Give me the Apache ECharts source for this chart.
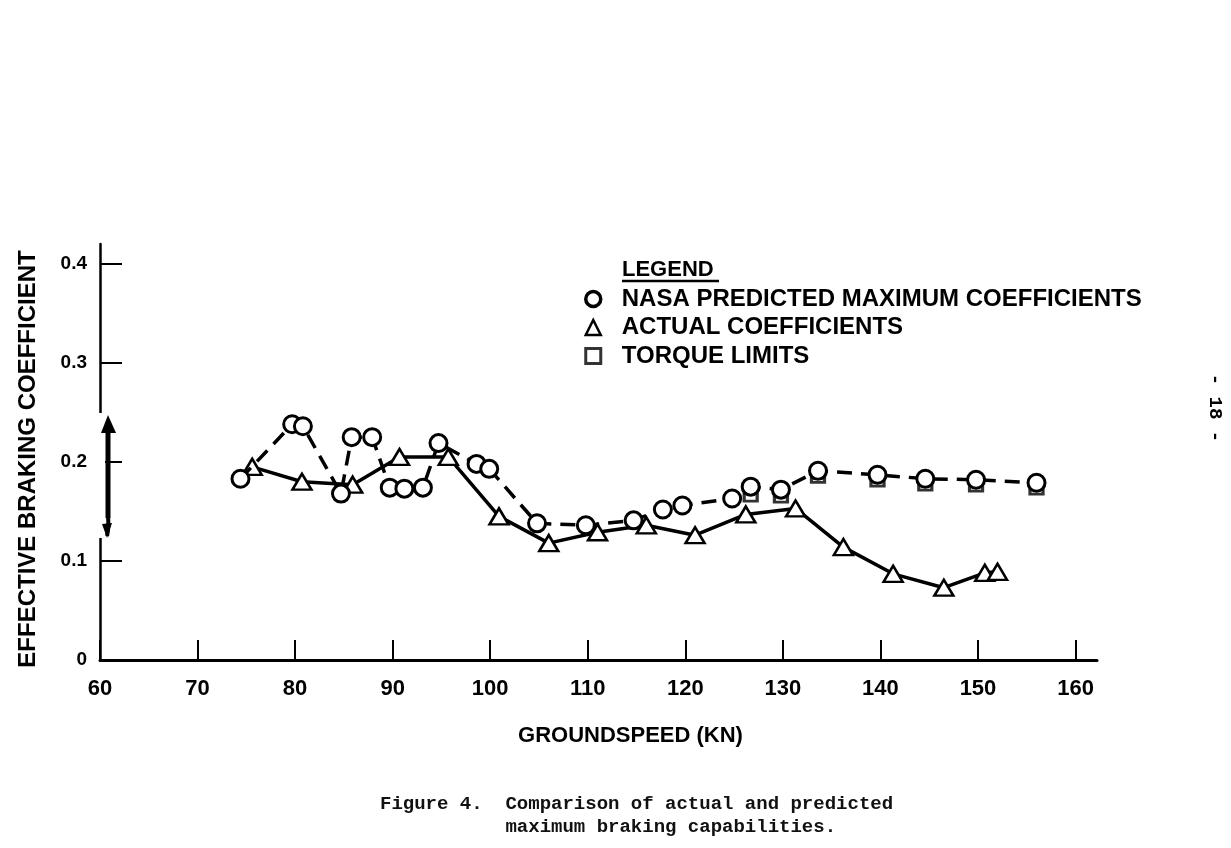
<!DOCTYPE html>
<html>
<head>
<meta charset="utf-8">
<script src="https://cdn.jsdelivr.net/npm/echarts@6/dist/echarts.min.js"></script>
<style>
html,body{margin:0;padding:0;background:#fff;}
#c{width:1231px;height:848px;}
</style>
</head>
<body>
<div id="c"></div>
<script>
// ---- data ----
const xTicks = [60, 70, 80, 90, 100, 110, 120, 130, 140, 150, 160];
const yTicks = [0, 0.1, 0.2, 0.3, 0.4];

const nasaSpeed = [74.4, 79.7, 80.8, 84.7, 85.8, 87.9, 89.7, 91.2, 93.1, 94.7, 98.6, 99.9,
  104.8, 109.8, 114.7, 117.7, 119.7, 124.8, 126.7, 129.8, 133.6, 139.7, 144.6, 149.8, 156.0];
const nasaCoef = [0.183, 0.238, 0.236, 0.168, 0.225, 0.225, 0.174, 0.173, 0.174, 0.219, 0.198, 0.193,
  0.138, 0.136, 0.141, 0.152, 0.156, 0.163, 0.175, 0.172, 0.191, 0.187, 0.183, 0.182, 0.179];

const actualSpeed = [75.6, 80.7, 85.9, 90.7, 95.7, 100.9, 106.0, 111.0, 116.0, 121.0,
  126.2, 131.3, 136.2, 141.3, 146.5, 150.7, 152.0];
const actualCoef = [0.195, 0.180, 0.177, 0.205, 0.205, 0.145, 0.118, 0.129, 0.136, 0.126,
  0.147, 0.153, 0.114, 0.087, 0.073, 0.088, 0.089];

const torqueSpeed = [126.7, 129.8, 133.6, 139.7, 144.6, 149.8, 156.0];
const torqueCoef = [0.166, 0.165, 0.185, 0.181, 0.177, 0.176, 0.173];

const seriesNames = ['NASA PREDICTED MAXIMUM COEFFICIENTS', 'ACTUAL COEFFICIENTS', 'TORQUE LIMITS'];
const legendTitle = 'LEGEND';
const xName = 'GROUNDSPEED (KN)';
const yName = 'EFFECTIVE BRAKING COEFFICIENT';
const caption = 'Figure 4.  Comparison of actual and predicted\n           maximum braking capabilities.';
const pageNo = '- 18 -';

const zip = (a, b) => a.map((v, i) => [v, b[i]]);

const SANS = '"Liberation Sans", Arial, sans-serif';
const MONO = '"Liberation Mono", "DejaVu Sans Mono", monospace';

const chart = echarts.init(document.getElementById('c'), null, {renderer: 'canvas'});

const option = {
  backgroundColor: '#fff',
  animation: false,
  grid: {left: 100, right: 134, top: 244, bottom: 188, containLabel: false},
  title: [
    {
      text: legendTitle, left: 617, top: 254,
      textStyle: {fontFamily: SANS, fontWeight: 'bold', fontSize: 22, color: '#000'}
    },
    {
      text: caption, left: 375, top: 788,
      textStyle: {fontFamily: MONO, fontWeight: 'bold', fontSize: 19, lineHeight: 23, color: '#111'}
    }
  ],
  legend: {
    orient: 'vertical',
    left: 579, top: 282,
    itemWidth: 15, itemHeight: 15, itemGap: 4.5,
    selectedMode: false,
    textStyle: {fontFamily: SANS, fontWeight: 'bold', fontSize: 24, color: '#000', padding: [0, 0, 0, 16]},
    data: [
      {name: seriesNames[0], icon: 'circle', itemStyle: {color: '#fff', borderColor: '#000', borderWidth: 3.5}},
      {name: seriesNames[1], icon: 'triangle', itemStyle: {color: '#fff', borderColor: '#000', borderWidth: 2.5}},
      {name: seriesNames[2], icon: 'rect', itemStyle: {color: '#fff', borderColor: '#000', borderWidth: 3}}
    ]
  },
  xAxis: {
    type: 'value', min: 60, max: 162.2,
    name: xName, nameLocation: 'middle', nameGap: 65,
    nameTextStyle: {fontFamily: SANS, fontWeight: 'bold', fontSize: 22, color: '#000', padding: [0, 0, 0, 64]},
    axisLine: {show: true, onZero: false, lineStyle: {color: '#000', width: 3}},
    axisTick: {show: true, inside: true, length: 20, customValues: xTicks, lineStyle: {color: '#000', width: 2}},
    axisLabel: {
      customValues: xTicks, margin: 18, color: '#000',
      fontFamily: SANS, fontWeight: 'bold', fontSize: 22
    },
    splitLine: {show: false}
  },
  yAxis: {
    type: 'value', min: 0, max: 0.42,
    name: yName, nameLocation: 'middle', nameRotate: 90, nameGap: 60,
    nameTextStyle: {fontFamily: SANS, fontWeight: 'bold', fontSize: 24, color: '#000', padding: [0, 0, 0, -14]},
    axisLine: {show: true, lineStyle: {color: '#000', width: 2.5}},
    axisTick: {show: true, inside: true, length: 22, customValues: yTicks, lineStyle: {color: '#000', width: 2}},
    axisLabel: {
      customValues: yTicks, margin: 13, color: '#000',
      fontFamily: SANS, fontWeight: 'bold', fontSize: 19,
      formatter: v => (v === 0 ? '0' : v.toFixed(1))
    },
    splitLine: {show: false}
  },
  series: [
    {
      name: seriesNames[2], type: 'scatter',
      data: zip(torqueSpeed, torqueCoef),
      symbol: 'rect', symbolSize: [13, 11],
      itemStyle: {color: '#fff', borderColor: '#000', borderWidth: 3},
      z: 2
    },
    {
      name: seriesNames[1], type: 'line',
      data: zip(actualSpeed, actualCoef),
      symbol: 'triangle', symbolSize: [19, 16],
      lineStyle: {color: '#000', width: 3.5, type: 'solid'},
      itemStyle: {color: '#fff', borderColor: '#000', borderWidth: 2.5},
      z: 3
    },
    {
      name: seriesNames[0], type: 'line',
      data: zip(nasaSpeed, nasaCoef),
      symbol: 'circle', symbolSize: 17,
      lineStyle: {color: '#000', width: 3.5, type: [15, 9]},
      itemStyle: {color: '#fff', borderColor: '#000', borderWidth: 3},
      z: 4
    }
  ]
};

chart.setOption(option);

// decorations: axis break with double-headed arrow, legend underline, page number
const yTop = chart.convertToPixel({yAxisIndex: 0}, 0.2495);
const yBot = chart.convertToPixel({yAxisIndex: 0}, 0.1232);
const ax = chart.convertToPixel({xAxisIndex: 0}, 60);
chart.setOption({
  graphic: [
    {type: 'rect', shape: {x: ax - 5, y: yTop, width: 10, height: yBot - yTop}, style: {fill: '#fff'}, z: 100},
    {type: 'polygon', shape: {points: [[ax + 1, yTop + 20], [ax + 8, yTop + 2], [ax + 16, yTop + 20]]}, style: {fill: '#000'}, z: 101},
    {type: 'line', shape: {x1: ax + 8, y1: yTop + 16, x2: ax + 8, y2: yBot - 20}, style: {stroke: '#000', lineWidth: 5}, z: 101},
    {type: 'bezierCurve', shape: {x1: ax + 8, y1: yBot - 22, cpx1: ax + 9, cpy1: yBot - 10, x2: ax + 7, y2: yBot - 2}, style: {stroke: '#000', lineWidth: 4, fill: null}, z: 101},
    {type: 'polygon', shape: {points: [[ax + 2, yBot - 14], [ax + 7, yBot], [ax + 12, yBot - 15]]}, style: {fill: '#000'}, z: 101},
    {type: 'line', shape: {x1: 622, y1: 281, x2: 719, y2: 281}, style: {stroke: '#000', lineWidth: 2.5}, z: 101},
    {type: 'text', x: 1215, y: 408, rotation: -Math.PI / 2,
      style: {text: pageNo, fontFamily: MONO, fontWeight: 'bold', fontSize: 19, fill: '#000', align: 'center', verticalAlign: 'middle'}, z: 101}
  ]
});
</script>
</body>
</html>
